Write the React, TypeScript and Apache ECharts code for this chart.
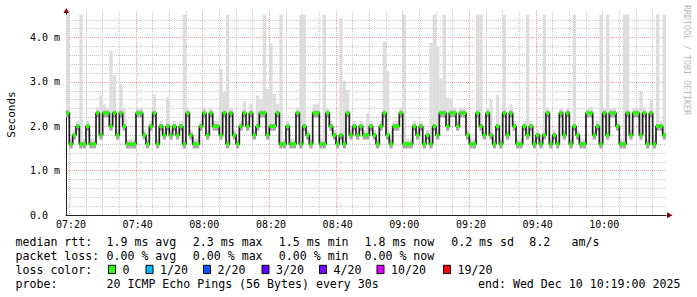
import React, { useEffect, useRef } from 'react';
import * as echarts from 'echarts';

// ---------- data ----------
// one value per minute, 07:19 .. 10:18
const START_MINUTE = 7 * 60 + 19;
const timeCategories: string[] = [];
for (let i = 0; i < 180; i++) {
  const t = START_MINUTE + i;
  timeCategories.push(`${String(Math.floor(t / 60)).padStart(2, '0')}:${String(t % 60).padStart(2, '0')}`);
}

const xTickLabels = ['07:20', '07:40', '08:00', '08:20', '08:40', '09:00', '09:20', '09:40', '10:00'];
const yTickLabels = ['0.0', '1.0 m', '2.0 m', '3.0 m', '4.0 m'];

// median rtt (ms)
const rttMedian = [
  2.3, 1.6, 1.8, 2.0, 1.6, 1.6, 2.0, 1.6, 1.6, 2.3,
  1.8, 2.3, 2.3, 2.0, 2.3, 1.8, 2.3, 2.0, 1.6, 1.6,
  1.6, 2.3, 2.3, 1.8, 1.6, 2.0, 2.3, 1.6, 2.0, 1.8,
  2.0, 1.8, 2.0, 1.8, 2.0, 1.6, 2.3, 1.8, 1.6, 1.6,
  2.0, 2.3, 1.8, 2.3, 2.0, 2.0, 1.8, 2.3, 1.6, 2.3,
  1.8, 1.6, 2.0, 2.3, 2.0, 2.3, 1.8, 2.0, 2.3, 2.3,
  1.8, 2.0, 2.0, 2.3, 1.6, 1.6, 2.0, 1.6, 1.6, 2.3,
  1.6, 2.0, 1.8, 1.6, 2.3, 2.3, 1.6, 1.6, 2.3, 2.0,
  1.8, 1.6, 1.8, 1.6, 2.3, 1.8, 2.0, 1.8, 2.0, 1.8,
  1.8, 2.0, 1.8, 1.6, 2.0, 2.3, 1.8, 1.6, 2.0, 2.0,
  2.3, 1.6, 1.6, 1.6, 2.0, 1.8, 2.0, 1.6, 1.8, 1.6,
  2.0, 1.8, 2.3, 2.3, 2.0, 2.3, 2.3, 2.0, 2.3, 2.3,
  1.8, 1.6, 1.6, 2.3, 2.0, 1.8, 2.3, 1.8, 1.6, 2.0,
  1.6, 2.3, 1.8, 2.3, 2.0, 1.6, 1.6, 2.0, 1.8, 2.0,
  1.6, 1.8, 1.6, 1.8, 2.3, 1.6, 1.8, 1.6, 2.3, 1.8,
  2.3, 1.6, 2.0, 1.8, 1.6, 1.6, 2.3, 2.3, 1.8, 2.0,
  1.6, 2.3, 1.8, 2.3, 2.3, 2.0, 1.6, 1.6, 2.3, 1.8,
  2.3, 2.3, 1.8, 2.3, 1.6, 2.3, 1.6, 2.0, 2.0, 1.8,
];

// max rtt of the pings (ms) – top of the smoke
const rttMax = [
  4.52, 1.72, 1.92, 2.12, 4.52, 1.72, 2.12, 1.72, 1.72, 2.42,
  2.7, 2.5, 2.42, 3.7, 3.15, 1.92, 2.96, 2.4, 1.72, 1.72,
  1.72, 2.42, 2.42, 1.92, 1.72, 2.12, 2.72, 1.72, 2.12, 1.92,
  2.66, 1.92, 2.12, 1.92, 2.12, 4.52, 2.42, 1.92, 1.72, 1.72,
  2.12, 2.42, 1.92, 2.42, 2.12, 2.12, 3.3, 2.78, 4.52, 2.42,
  1.92, 1.72, 2.12, 2.56, 2.12, 2.5, 1.92, 2.69, 2.6, 4.52,
  2.84, 3.87, 2.73, 2.5, 4.52, 1.72, 2.12, 1.72, 1.72, 2.42,
  4.52, 4.52, 1.92, 1.72, 2.5, 2.5, 1.72, 4.52, 2.42, 2.12,
  1.92, 1.72, 4.44, 3.03, 2.82, 1.92, 2.12, 1.92, 2.12, 1.92,
  2.3, 2.12, 1.92, 1.72, 2.12, 3.91, 3.24, 1.72, 2.12, 2.12,
  2.42, 4.52, 1.72, 1.72, 2.12, 1.92, 2.12, 1.72, 1.92, 3.89,
  4.52, 3.81, 3.08, 4.52, 2.64, 2.64, 2.42, 2.12, 2.42, 2.42,
  1.92, 1.72, 1.72, 4.52, 4.52, 1.92, 2.42, 2.6, 1.72, 2.7,
  1.72, 4.52, 1.92, 2.5, 2.12, 1.72, 1.72, 2.12, 4.52, 2.12,
  1.72, 1.92, 1.72, 4.52, 2.42, 1.72, 1.92, 1.72, 2.42, 1.92,
  2.42, 1.72, 4.52, 1.92, 1.72, 1.72, 2.42, 2.44, 1.92, 2.12,
  4.52, 2.42, 4.52, 2.42, 2.42, 2.12, 1.72, 4.52, 4.52, 1.92,
  2.42, 2.42, 2.8, 2.42, 1.72, 2.6, 1.72, 4.52, 2.12, 4.52,
];

const legendRtt = ['median rtt:', '1.9 ms avg', '2.3 ms max', '1.5 ms min', '1.8 ms now', '0.2 ms sd', '8.2', 'am/s'];
const legendLoss = ['packet loss:', '0.00 % avg', '0.00 % max', '0.00 % min', '0.00 % now'];
const lossLabels = ['0', '1/20', '2/20', '3/20', '4/20', '10/20', '19/20'];
const lossColors = ['#26ff00', '#00b8ff', '#0059ff', '#5e00ff', '#7e00ff', '#dd00ff', '#ff0000'];
const probeText = '20 ICMP Echo Pings (56 Bytes) every 30s';
const endText = 'end: Wed Dec 10 10:19:00 2025';

// ---------- layout / style ----------
const MONO = '"DejaVu Sans Mono", monospace';
const GRID_MINOR = '#c6c6c6';
const GRID_MAJOR = '#e6a0a0';
const rowColsX = [15.5, 106.5, 192.8, 278.8, 364.5, 451.2, 529.2, 571.5];
const lossBoxX = [108.5, 146, 203.5, 262, 319.5, 377, 443.5];
const rowY = [241.5, 255.5, 269.5, 283.5];

function buildOption() {
  const smokeBase = rttMedian.map((m) => +(m - 0.1).toFixed(3));
  const smokeDark = rttMedian.map(() => 0.16);
  const smokeLight = rttMax.map((mx, i) => Math.max(0, +(mx - rttMedian[i] - 0.06).toFixed(3)));
  const greenBase = rttMedian.map((m) => +(m - 0.037).toFixed(3));
  const greenBand = rttMedian.map(() => 0.074);

  // x split lines: every 5 minutes, red every 20 minutes; last pushed boundary hidden
  const xSplitColors: string[] = [];
  for (let i = 0; i < 36; i++) xSplitColors.push(i % 4 === 0 ? GRID_MAJOR : GRID_MINOR);
  xSplitColors.push('rgba(0,0,0,0)');
  // y split lines: 0 .. 4.6 step 0.2
  const ySplitColors: string[] = [];
  for (let k = 0; k <= 23; k++) {
    if (k === 0 || k === 23) ySplitColors.push('rgba(0,0,0,0)');
    else ySplitColors.push(k % 5 === 0 ? GRID_MAJOR : GRID_MINOR);
  }

  const barCommon = { type: 'bar', barWidth: '100%', barGap: '-100%', silent: true, animation: false } as any;

  const graphic: any[] = [];
  // arrows
  graphic.push({ type: 'polygon', shape: { points: [[63.5, 13], [69, 13], [66.3, 8]] }, style: { fill: '#800000' }, z: 100 });
  graphic.push({ type: 'polygon', shape: { points: [[667, 212.3], [667, 218.3], [672.5, 215.3]] }, style: { fill: '#800000' }, z: 100 });
  // unit label
  graphic.push({
    type: 'text', x: 11, y: 114.5, rotation: Math.PI / 2,
    style: { text: 'Seconds', fontFamily: MONO, fontSize: 11, fill: '#000', align: 'center', verticalAlign: 'middle' },
  });
  // watermark
  graphic.push({
    type: 'text', x: 687, y: 60, rotation: -Math.PI / 2,
    style: { text: 'RRDTOOL / TOBI OETIKER', fontFamily: MONO, fontSize: 8.3, fill: '#b8b8b8', align: 'center', verticalAlign: 'middle' },
  });
  const txt = (x: number, y: number, s: string) => ({
    type: 'text', x, y,
    style: { text: s, fontFamily: MONO, fontSize: 11.6, fill: '#000', align: 'left', verticalAlign: 'middle' },
  });
  legendRtt.forEach((s, i) => graphic.push(txt(rowColsX[i], rowY[0], s)));
  legendLoss.forEach((s, i) => graphic.push(txt(rowColsX[i], rowY[1], s)));
  graphic.push(txt(rowColsX[0], rowY[2], 'loss color:'));
  lossLabels.forEach((s, i) => {
    graphic.push({
      type: 'rect', shape: { x: lossBoxX[i], y: rowY[2] - 4.2, width: 7, height: 8.3 },
      style: { fill: lossColors[i], stroke: '#000', lineWidth: 1 },
    });
    graphic.push(txt(lossBoxX[i] + 14, rowY[2], s));
  });
  graphic.push(txt(rowColsX[0], rowY[3], 'probe:'));
  graphic.push(txt(rowColsX[1], rowY[3], probeText));
  graphic.push(txt(478, rowY[3], endText));

  return {
    animation: false,
    backgroundColor: '#ffffff',
    grid: { left: 66, right: 31, top: 11, bottom: 82, containLabel: false },
    xAxis: {
      type: 'category',
      data: timeCategories,
      boundaryGap: true,
      axisLine: { show: true, lineStyle: { color: '#202020', width: 1 } },
      axisTick: { show: false },
      axisLabel: {
        interval: (_i: number, v: string) => xTickLabels.includes(v),
        fontFamily: MONO, fontSize: 10, color: '#000', margin: 4,
      },
      splitLine: {
        show: true,
        interval: (_i: number, v: string) => Number(v.slice(3)) % 5 === 0,
        lineStyle: { color: xSplitColors, width: 1, type: [1, 1] },
      },
    },
    yAxis: {
      type: 'value',
      min: 0,
      max: 4.6,
      interval: 0.2,
      axisLine: { show: true, lineStyle: { color: '#202020', width: 1 } },
      axisTick: { show: false },
      axisLabel: {
        formatter: (v: number) => {
          const r = Math.round(v * 10) / 10;
          if (Math.abs(r - Math.round(r)) < 1e-6 && Math.round(r) < yTickLabels.length) return yTickLabels[Math.round(r)];
          return '';
        },
        align: 'left', margin: 36, fontFamily: MONO, fontSize: 10, color: '#000',
      },
      splitLine: { show: true, lineStyle: { color: ySplitColors, width: 1, type: [1, 1] } },
    },
    series: [
      { ...barCommon, stack: 'smoke', data: smokeBase, itemStyle: { color: 'rgba(0,0,0,0)' }, z: 2 },
      { ...barCommon, stack: 'smoke', data: smokeDark, itemStyle: { color: '#a8a8a8' }, z: 2 },
      { ...barCommon, stack: 'smoke', data: smokeLight, itemStyle: { color: '#dddddd' }, z: 2 },
      {
        type: 'line', data: rttMedian, step: 'middle', symbol: 'none', silent: true, z: 4,
        lineStyle: { color: '#202020', width: 1.7 },
      },
      { ...barCommon, stack: 'med', data: greenBase, itemStyle: { color: 'rgba(0,0,0,0)' }, z: 6 },
      { ...barCommon, stack: 'med', data: greenBand, itemStyle: { color: lossColors[0] }, z: 6 },
    ],
    graphic,
  };
}

export default function App() {
  const ref = useRef<HTMLDivElement>(null);
  useEffect(() => {
    if (!ref.current) return;
    const chart = echarts.init(ref.current, null, { renderer: 'svg' });
    chart.setOption(buildOption() as any);
    return () => chart.dispose();
  }, []);
  return (
    <div
      ref={ref}
      style={{ position: 'fixed', left: 0, top: 0, width: 697, height: 297, background: '#fff' }}
    />
  );
}
